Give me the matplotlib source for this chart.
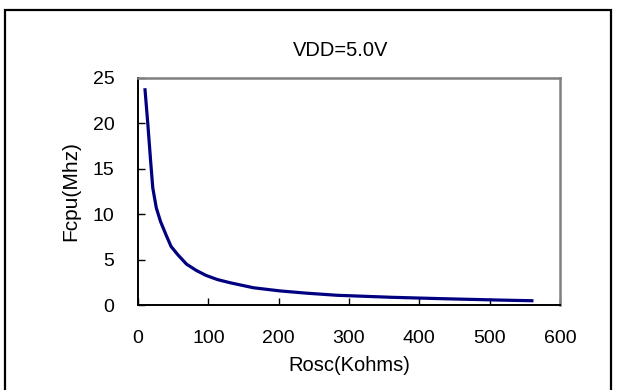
import matplotlib
matplotlib.use("Agg")
import matplotlib.pyplot as plt
from matplotlib.patches import Rectangle

# Rosc (Kohms) vs Fcpu (MHz)
rosc = [10, 14, 18, 21, 26, 32, 40, 47, 57, 69, 83, 97, 113, 131, 164,
        202, 240, 283, 360, 430, 510, 560]
fcpu = [23.7, 19.9, 15.8, 12.9, 10.7, 9.2, 7.7, 6.45, 5.5, 4.5, 3.8, 3.25,
        2.8, 2.45, 1.9, 1.55, 1.3, 1.07, 0.85, 0.7, 0.55, 0.47]

xticks = [0, 100, 200, 300, 400, 500, 600]
yticks = [0, 5, 10, 15, 20, 25]

W, H = 618, 390
plt.rcParams["font.family"] = ["Liberation Sans", "DejaVu Sans"]

fig = plt.figure(figsize=(W / 100, H / 100), dpi=100)
ax = fig.add_axes([138 / W, 1 - 305 / H, (560 - 138) / W, (305 - 78) / H])

ax.plot(rosc, fcpu, color="#000080", lw=2.3)
ax.set_xlim(0, 600)
ax.set_ylim(0, 25)
ax.set_xticks(xticks)
ax.set_yticks(yticks)
ax.tick_params(axis="x", direction="in", length=5, width=1, pad=18, labelsize=14)
ax.tick_params(axis="y", direction="in", length=5, width=1, pad=17, labelsize=14)
for s in ("top", "right"):
    ax.spines[s].set_color("#808080")
    ax.spines[s].set_linewidth(1.8)
for s in ("left", "bottom"):
    ax.spines[s].set_color("black")
    ax.spines[s].set_linewidth(1.4)

ax.set_xlabel("Rosc(Kohms)", fontsize=14.5)
ax.xaxis.set_label_coords(0.5, (305 - 356) / 227)
ax.set_ylabel("Fcpu(Mhz)", fontsize=15)
ax.yaxis.set_label_coords((71 - 138) / 422, 0.5)
ax.yaxis.label.set_va("center")

fig.text(341 / W, 1 - 50 / H, "VDD=5.0V", fontsize=14.5, ha="center", va="center")

# outer frame around the whole chart (bottom edge runs off the picture)
fig.patches.append(Rectangle((4.5 / W, -10 / H), 606 / W, (H - 9.5 + 10) / H,
                             transform=fig.transFigure, fill=False,
                             edgecolor="black", lw=1.6, clip_on=False))

fig.savefig("out.png", dpi=100)
